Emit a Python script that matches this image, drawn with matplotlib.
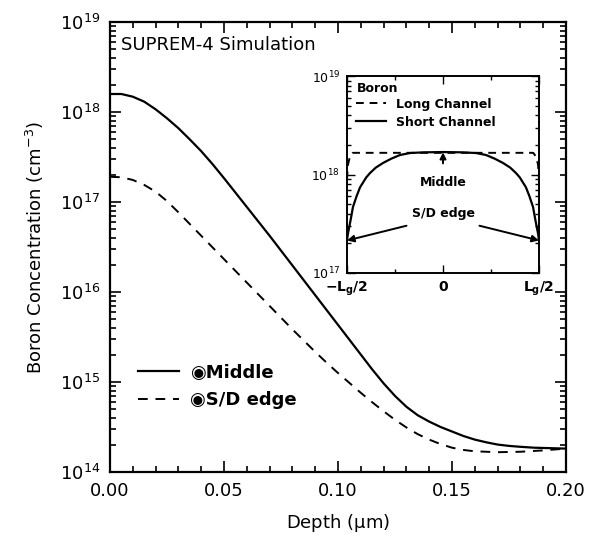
import matplotlib
matplotlib.use("Agg")
import matplotlib.pyplot as plt
import matplotlib.ticker as mticker
import numpy as np

# ---- main chart data (depth in um, log10 concentration) ----
depth_middle = [0.000, 0.005, 0.010, 0.015, 0.020, 0.025, 0.030, 0.035, 0.040, 0.045,
                0.050, 0.055, 0.060, 0.065, 0.070, 0.075, 0.080, 0.085, 0.090, 0.095,
                0.100, 0.105, 0.110, 0.115, 0.120, 0.125, 0.130, 0.135, 0.140, 0.145,
                0.150, 0.155, 0.160, 0.165, 0.170, 0.175, 0.180, 0.186, 0.193, 0.200]
log_middle = [18.20, 18.20, 18.17, 18.115, 18.03, 17.93, 17.82, 17.695, 17.565, 17.42,
              17.265, 17.105, 16.945, 16.785, 16.625, 16.46, 16.295, 16.13, 15.965, 15.80,
              15.635, 15.47, 15.305, 15.14, 14.985, 14.845, 14.725, 14.63, 14.56, 14.50,
              14.45, 14.40, 14.36, 14.33, 14.305, 14.29, 14.28, 14.27, 14.265, 14.26]

depth_edge = [0.000, 0.005, 0.010, 0.015, 0.020, 0.025, 0.030, 0.035, 0.040, 0.045,
              0.050, 0.055, 0.060, 0.065, 0.070, 0.075, 0.080, 0.085, 0.090, 0.095,
              0.100, 0.105, 0.110, 0.115, 0.120, 0.125, 0.130, 0.135, 0.140, 0.145,
              0.150, 0.155, 0.160, 0.170, 0.180, 0.190, 0.200]
log_edge = [17.28, 17.275, 17.245, 17.19, 17.115, 17.01, 16.885, 16.755, 16.625, 16.495,
            16.365, 16.235, 16.105, 15.975, 15.845, 15.715, 15.585, 15.46, 15.335, 15.215,
            15.10, 14.99, 14.88, 14.775, 14.675, 14.58, 14.495, 14.42, 14.36, 14.31,
            14.27, 14.245, 14.23, 14.22, 14.225, 14.24, 14.26]

# ---- inset data (position across channel, log10 concentration) ----
pos_short = [-0.500, -0.495, -0.480, -0.469, -0.450, -0.432, -0.400, -0.380, -0.350,
             -0.3125, -0.270, -0.224, -0.172, -0.100, 0.000, 0.100, 0.172, 0.224,
             0.270, 0.3125, 0.350, 0.380, 0.400, 0.432, 0.450, 0.469, 0.480, 0.495, 0.500]
log_short = [17.33, 17.40, 17.55, 17.67, 17.78, 17.87, 17.97, 18.015, 18.07,
             18.117, 18.16, 18.198, 18.218, 18.225, 18.228, 18.225, 18.218, 18.198,
             18.16, 18.117, 18.07, 18.015, 17.97, 17.87, 17.78, 17.67, 17.55, 17.40, 17.33]
pos_long = [-0.500, -0.495, -0.485, -0.470, 0.000, 0.470, 0.485, 0.495, 0.500]
log_long = [17.95, 18.10, 18.18, 18.22, 18.22, 18.22, 18.18, 18.10, 17.95]

xticks_main = [0.00, 0.05, 0.10, 0.15, 0.20]
xticklabels_main = ["0.00", "0.05", "0.10", "0.15", "0.20"]
inset_xticks = [-0.5, 0.0, 0.5]
inset_xticklabels = [r"$\mathbf{-L_g/2}$", r"$\mathbf{0}$", r"$\mathbf{L_g/2}$"]

plt.rcParams['font.family'] = ['DejaVu Sans']
plt.rcParams['mathtext.default'] = 'regular'

fig = plt.figure(figsize=(5.92, 5.38), dpi=100)
ax = fig.add_axes([110/592, 66/538, 456/592, 450/538])

ax.plot(depth_middle, [10**v for v in log_middle], color='black', lw=1.6, label='◉Middle')
ax.plot(depth_edge, [10**v for v in log_edge], color='black', lw=1.4, ls=(0, (5, 4)), label='◉S/D edge')
ax.set_yscale('log')
ax.set_xlim(0, 0.2)
ax.set_ylim(1e14, 1e19)
ax.set_xticks(xticks_main)
ax.set_xticklabels(xticklabels_main)
ax.xaxis.set_minor_locator(mticker.MultipleLocator(0.01))
ax.yaxis.set_major_locator(mticker.LogLocator(base=10, numticks=10))
ax.yaxis.set_minor_locator(mticker.LogLocator(base=10, subs=np.arange(2, 10), numticks=20))
ax.yaxis.set_major_formatter(mticker.LogFormatterMathtext())
ax.tick_params(which='both', direction='in', top=True, right=True, width=1.2, labelsize=13)
ax.tick_params(which='major', length=8, pad=7)
ax.tick_params(which='minor', length=4)
for s in ax.spines.values():
    s.set_linewidth(1.6)
ax.set_xlabel(r"Depth ($\mu$m)", fontsize=13, labelpad=9)
ax.set_ylabel(r"Boron Concentration (cm$^{-3}$)", fontsize=13, labelpad=10)
ax.text(0.025, 0.968, "SUPREM-4 Simulation", transform=ax.transAxes, fontsize=13,
        va='top', ha='left')
leg = ax.legend(loc='center left', bbox_to_anchor=(0.025, 0.19), frameon=False,
                prop={'size': 13, 'weight': 'bold'}, handlelength=2.3,
                handletextpad=0.6, labelspacing=0.55)

# ---- inset ----
ins = fig.add_axes([347/592, 265/538, 192/592, 197/538])
ins.plot(pos_long, [10**v for v in log_long], color='black', lw=1.4, ls=(0, (4, 3)), label='Long Channel')
ins.plot(pos_short, [10**v for v in log_short], color='black', lw=1.6, label='Short Channel')
ins.set_yscale('log')
ins.set_xlim(-0.5, 0.5)
ins.set_ylim(1e17, 1e19)
ins.set_xticks(inset_xticks)
ins.set_xticklabels(inset_xticklabels)
ins.xaxis.set_minor_locator(mticker.MultipleLocator(0.25))
ins.yaxis.set_major_locator(mticker.LogLocator(base=10, numticks=10))
ins.yaxis.set_minor_locator(mticker.LogLocator(base=10, subs=np.arange(2, 10), numticks=20))
ins.yaxis.set_major_formatter(mticker.LogFormatterMathtext())
ins.tick_params(which='both', direction='in', top=True, right=True, width=1.0, labelsize=9)
ins.tick_params(axis='x', labelsize=10)
ins.tick_params(which='major', length=6, pad=5)
ins.tick_params(which='minor', length=3)
for s in ins.spines.values():
    s.set_linewidth(1.4)
ins.text(0.05, 0.97, "Boron", transform=ins.transAxes, fontsize=9, fontweight='bold',
         va='top', ha='left')
ins.legend(loc='upper left', bbox_to_anchor=(0.0, 0.935), frameon=False,
           prop={'size': 9, 'weight': 'bold'}, handlelength=2.4, handletextpad=0.8,
           labelspacing=0.4, borderaxespad=0.3)
ins.annotate("Middle", xy=(0.0, 10**18.225), xytext=(0.0, 10**17.92),
             ha='center', va='center', fontsize=9, fontweight='bold',
             arrowprops=dict(arrowstyle='-|>', color='black', lw=1.4, shrinkA=7, shrinkB=0,
                             mutation_scale=9))
ins.text(0.0, 10**17.6, "S/D edge", ha='center', va='center', fontsize=9, fontweight='bold')
ins.annotate("", xy=(-0.5, 10**17.33), xytext=(-0.19, 10**17.48),
             arrowprops=dict(arrowstyle='-|>', color='black', lw=1.4, shrinkA=0, shrinkB=0,
                             mutation_scale=10))
ins.annotate("", xy=(0.5, 10**17.33), xytext=(0.19, 10**17.48),
             arrowprops=dict(arrowstyle='-|>', color='black', lw=1.4, shrinkA=0, shrinkB=0,
                             mutation_scale=10))

fig.savefig("out.png", dpi=100)
